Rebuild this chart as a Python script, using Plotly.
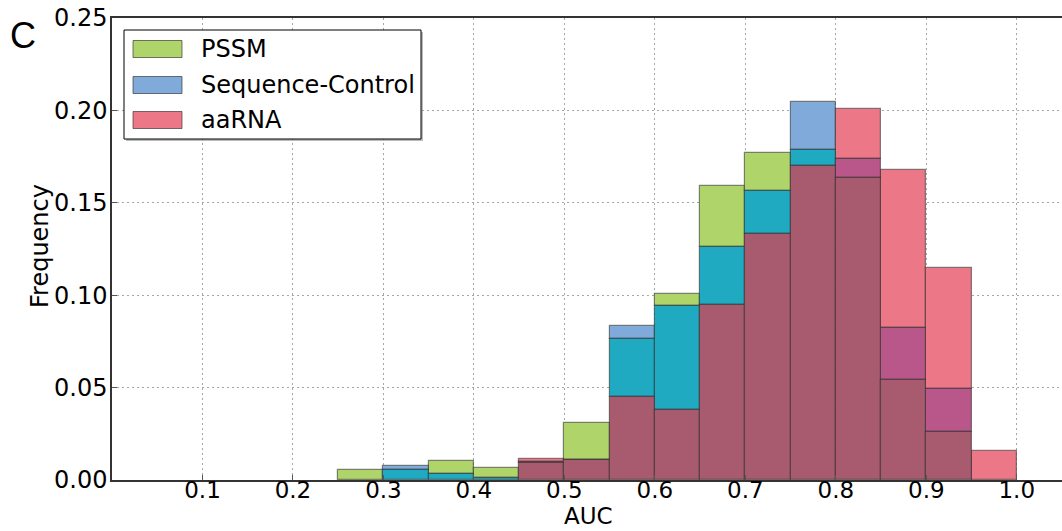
import plotly.graph_objects as go

# ---------------- data ----------------
bin_left = [0.25, 0.30, 0.35, 0.40, 0.45, 0.50, 0.55, 0.60, 0.65, 0.70, 0.75, 0.80, 0.85, 0.90, 0.95]
bin_width = 0.05
pssm = [0.0054, 0.0054, 0.0105, 0.0063, 0.0096, 0.0307, 0.0765, 0.1005, 0.1593, 0.1768, 0.1786, 0.1636, 0.0541, 0.0258, 0.0]
seq_control = [0.0, 0.0074, 0.0032, 0.0013, 0.0093, 0.0106, 0.0833, 0.0943, 0.1259, 0.1562, 0.2047, 0.1735, 0.0824, 0.0492, 0.0]
aarna = [0.0, 0.0, 0.0, 0.0, 0.0114, 0.0110, 0.0449, 0.0379, 0.0945, 0.1331, 0.1697, 0.2006, 0.1676, 0.1149, 0.0159]
series_names = ["PSSM", "Sequence-Control", "aaRNA"]
x_ticks = [0.1, 0.2, 0.3, 0.4, 0.5, 0.6, 0.7, 0.8, 0.9, 1.0]
y_ticks = [0.0, 0.05, 0.10, 0.15, 0.20, 0.25]

series = {"PSSM": pssm, "Sequence-Control": seq_control, "aaRNA": aarna}

# colours of overlapping regions (as in the figure)
region_colors = {
    ("PSSM",): "#afd46a",
    ("Sequence-Control",): "#80aad9",
    ("aaRNA",): "#ec7887",
    ("PSSM", "Sequence-Control"): "#1faac1",
    ("Sequence-Control", "aaRNA"): "#b9578a",
    ("PSSM", "aaRNA"): "#a95b6c",
    ("PSSM", "Sequence-Control", "aaRNA"): "#a85a6e",
}

# build segments: each part of a bin covered by a given set of series
segments = {k: {"x": [], "base": [], "h": []} for k in region_colors}
for i, left in enumerate(bin_left):
    vals = sorted(((series[n][i], n) for n in series_names), key=lambda t: t[0])
    lower = 0.0
    for j, (v, n) in enumerate(vals):
        covering = tuple(sorted((m for _, m in vals[j:]), key=series_names.index))
        if v - lower > 1e-9:
            seg = segments[covering]
            seg["x"].append(left + bin_width / 2)
            seg["base"].append(lower)
            seg["h"].append(v - lower)
        lower = max(lower, v)

fig = go.Figure()
for key, seg in segments.items():
    if not seg["x"]:
        continue
    fig.add_trace(go.Bar(
        x=seg["x"], y=seg["h"], base=seg["base"], width=bin_width,
        name=" + ".join(key),
        marker=dict(color=region_colors[key], line=dict(color="rgba(40,40,40,0.55)", width=1.2)),
        showlegend=False, hoverinfo="skip",
    ))

# ---------------- layout ----------------
W, H = 1062, 531
ML, MR, MT, MB = 112, 0, 18, 51
PW, PH = W - ML - MR, H - MT - MB


def px(xp):
    return (xp - ML) / PW


def py(yp):
    return 1 - (yp - MT) / PH


font_main = "DejaVu Sans, Verdana, sans-serif"
FS = 24

fig.update_layout(
    width=W, height=H,
    margin=dict(l=ML, r=MR, t=MT, b=MB, pad=0),
    paper_bgcolor="white", plot_bgcolor="white",
    barmode="overlay", bargap=0,
    font=dict(family=font_main, size=FS, color="black"),
    showlegend=False,
)
fig.update_xaxes(
    range=[0, 1.05], tickvals=x_ticks, ticktext=[f"{t:.1f}" for t in x_ticks],
    showgrid=True, gridcolor="rgba(0,0,0,0.35)", griddash="2px,3px", gridwidth=1,
    showline=True, linecolor="#333333", linewidth=1.5, mirror=True,
    ticks="inside", ticklen=5, tickcolor="#555555",
    layer="above traces", zeroline=False, ticklabelstandoff=-11,
    tickfont=dict(family=font_main, size=23, color="black"),
)
fig.update_yaxes(
    range=[0, 0.25], tickvals=y_ticks, tickformat=".2f",
    showgrid=True, gridcolor="rgba(0,0,0,0.35)", griddash="2px,3px", gridwidth=1,
    showline=True, linecolor="#333333", linewidth=1.5, mirror=False,
    ticks="inside", ticklen=5, tickcolor="#555555",
    layer="above traces", zeroline=False, ticklabelstandoff=-2,
    tickfont=dict(family=font_main, size=FS, color="black"),
)

shapes = []
annotations = []

# legend box (with slight shadow)
shapes.append(dict(type="rect", xref="paper", yref="paper",
                   x0=px(126), x1=px(423), y0=py(32), y1=py(141),
                   fillcolor="rgba(120,120,120,0.5)", line=dict(width=0)))
shapes.append(dict(type="rect", xref="paper", yref="paper",
                   x0=px(124), x1=px(421), y0=py(30), y1=py(139),
                   fillcolor="white", line=dict(color="black", width=1)))
legend_rows = [(49, "PSSM", ("PSSM",)),
               (85, "Sequence-Control", ("Sequence-Control",)),
               (120, "aaRNA", ("aaRNA",))]
for yc, label, key in legend_rows:
    shapes.append(dict(type="rect", xref="paper", yref="paper",
                       x0=px(133), x1=px(182), y0=py(yc - 8.5), y1=py(yc + 8.5),
                       fillcolor=region_colors[key], line=dict(color="rgba(60,60,60,0.7)", width=1)))
    annotations.append(dict(text=label, xref="paper", yref="paper", x=px(199), y=py(yc),
                            xanchor="left", yanchor="middle", showarrow=False,
                            font=dict(family=font_main, size=FS, color="black")))

# axis titles and panel letter
annotations.append(dict(text="AUC", xref="paper", yref="paper", x=px(588), y=py(531),
                        xanchor="center", yanchor="bottom", showarrow=False,
                        font=dict(family=font_main, size=23, color="black")))
annotations.append(dict(text="Frequency", xref="paper", yref="paper", x=px(40), y=py(246),
                        xanchor="center", yanchor="middle", showarrow=False, textangle=-90,
                        font=dict(family=font_main, size=FS, color="black")))
annotations.append(dict(text="C", xref="paper", yref="paper", x=px(23), y=py(35),
                        xanchor="center", yanchor="middle", showarrow=False,
                        font=dict(family="Liberation Sans, Arial, sans-serif", size=36, color="black")))

fig.update_layout(shapes=shapes, annotations=annotations)

fig.write_html("out.html")
